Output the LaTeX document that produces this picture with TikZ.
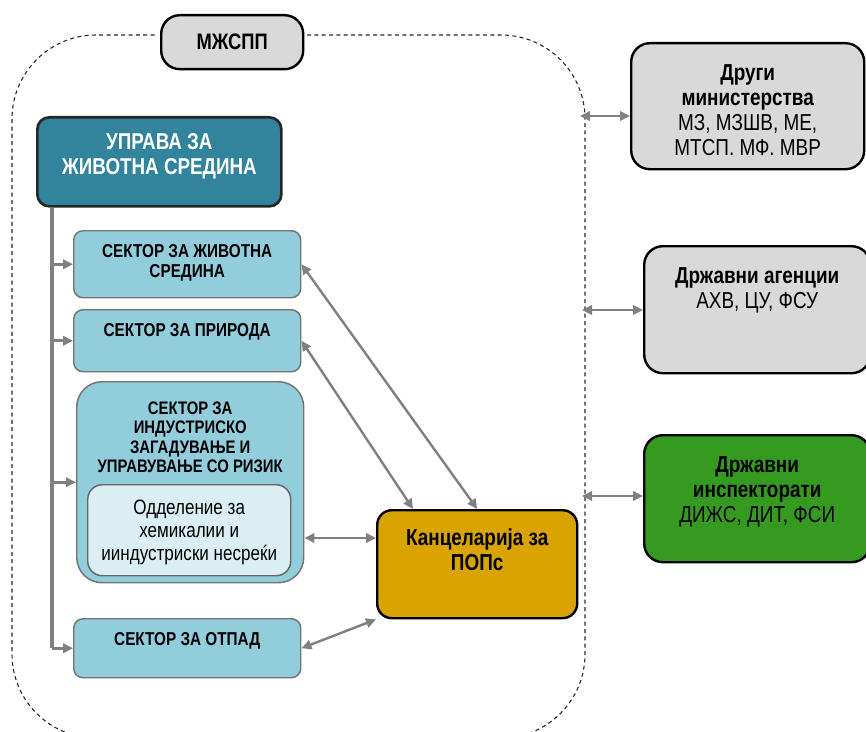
\documentclass[tikz,border=0pt]{standalone}
\usepackage{fontspec}
\setmainfont{Liberation Sans}[FakeStretch=0.82]
\usetikzlibrary{arrows.meta}
\usetikzlibrary{positioning}
\definecolor{upravablue}{HTML}{31849B}
\definecolor{sektorblue}{HTML}{92CDDC}
\definecolor{oddelblue}{HTML}{DAEEF3}
\definecolor{boxgray}{HTML}{D9D9D9}
\definecolor{popsgold}{HTML}{D9A300}
\definecolor{inspgreen}{HTML}{349A20}
\definecolor{linegray}{HTML}{808080}
\newcommand\sektorfont{\fontsize{14}{15}\selectfont\bfseries}
\newcommand\bigfont{\fontsize{17.3}{18.75}\selectfont}
\tikzset{
  at px/.style 2 args = {anchor = north west, inner sep = 0pt,
    minimum width = #1*0.75pt, minimum height = #2*0.75pt},
  sektor/.style = {draw = black!55, line width = 1.1pt, fill = sektorblue, rounded corners = 7pt},
  oddel/.style = {draw = black!60, line width = 1.1pt, fill = oddelblue, rounded corners = 11pt},
  uprava/.style = {draw = black!85, line width = 2pt, fill = upravablue, rounded corners = 9pt},
  outer/.style = {draw = black, line width = 1.8pt, fill = boxgray, rounded corners = 14pt},
  pops/.style = {draw = black, line width = 1.8pt, fill = popsgold, rounded corners = 11pt},
  insp/.style = {draw = black, line width = 1.8pt, fill = inspgreen, rounded corners = 14pt},
  txt/.style = {inner sep = 0pt, align = center},
  frame/.style = {draw = black!85, line width = 0.8pt, dash pattern = on 3pt off 2.5pt,
    rounded corners = 63pt},
  tree/.style = {draw = linegray, line width = 2.6pt},
  branch/.style = {draw = linegray, line width = 2.2pt, -{Triangle[length = 7.5pt, width = 7pt]}},
  link/.style = {draw = linegray, line width = 1.8pt,
    {Triangle[length = 7.5pt, width = 7pt]}-{Triangle[length = 7.5pt, width = 7pt]}},
}

\begin{document}
\begin{tikzpicture}[x = 0.75pt, y = -0.75pt]
  \useasboundingbox (0,0) rectangle (866,731);

  % dashed frame of the ministry
  \draw[frame] (307,35) -- (585,35) -- (585,738) -- (12,738) -- (12,35) -- (156,35);
  \node[at px = {142}{54}, outer, font = \fontsize{16.8}{18}\selectfont\bfseries] (miz) at (160,14) {МЖСПП};

  % uprava and sectors
  \node[at px = {244}{89}, uprava] (upr) at (36,116) {};
  \node[txt, below = 12.6pt of upr.north, text = white, font = \fontsize{17.2}{18.75}\selectfont\bfseries] (upr-t)
    {УПРАВА ЗА\\ЖИВОТНА СРЕДИНА};
  \node[at px = {227}{67}, sektor] (sz) at (73,230) {};
  \node[txt, below = 11pt of sz.north, font = \sektorfont] (sz-t) {СЕКТОР ЗА ЖИВОТНА\\СРЕДИНА};
  \node[at px = {227}{62}, sektor] (pr) at (73,309) {};
  \node[txt, below = 11pt of pr.north, font = \sektorfont] (pr-t) {СЕКТОР ЗА ПРИРОДА};
  \node[at px = {227}{201}, sektor, rounded corners = 19pt] (ind) at (76,381) {};
  \node[txt, below = 15.2pt of ind.north, font = \fontsize{13.6}{14.6}\selectfont\bfseries] (ind-t)
    {СЕКТОР ЗА\\ИНДУСТРИСКО\\ЗАГАДУВАЊЕ И\\УПРАВУВАЊЕ СО РИЗИК};
  \node[at px = {203}{91}, oddel] (od) at (87,484) {};
  \node[txt, below = 12pt of od.north, font = \fontsize{15.6}{17}\selectfont] (od-t)
    {Одделение за\\хемикалии и\\ииндустриски несреќи};
  \node[at px = {227}{59}, sektor] (ot) at (73,618) {};
  \node[txt, below = 10.8pt of ot.north, font = \sektorfont] (ot-t) {СЕКТОР ЗА ОТПАД};

  \node[at px = {200}{108}, pops] (kp) at (376,509) {};
  \node[txt, below = 15pt of kp.north, font = \bigfont\bfseries] (kp-t) {Канцеларија за\\ПОПс};

  % outside institutions
  \node[at px = {233}{126}, outer] (dm) at (630,42) {};
  \node[txt, below = 16.5pt of dm.north, font = \bigfont] (dm-t)
    {\textbf{Други}\\\textbf{министерства}\\МЗ, МЗШВ, МЕ,\\МТСП. МФ. МВР};
  \node[at px = {226}{127}, outer] (da) at (643,245) {};
  \node[txt, below = 16.5pt of da.north, font = \bigfont] (da-t) {\textbf{Државни агенции}\\АХВ, ЦУ, ФСУ};
  \node[at px = {226}{127}, insp] (di) at (643,434) {};
  \node[txt, below = 16.5pt of di.north, font = \bigfont] (di-t)
    {\textbf{Државни}\\\textbf{инспекторати}\\ДИЖС, ДИТ, ФСИ};

  % tree from the uprava
  \coordinate (trunk) at ([xshift = 12pt]upr.south west);
  \draw[tree] (trunk) -- (trunk |- ot.west);
  \draw[branch] (trunk |- sz.west) -- (sz.west);
  \draw[branch] (trunk |- pr.west) -- (pr.west);
  \draw[branch] (trunk |- ind.west) -- (ind.west);
  \draw[branch] (trunk |- ot.west) -- (ot.west);

  % links to the office
  \draw[link] (sz.east) -- (kp.north);
  \draw[link] (pr.east) -- (413,0 |- kp.north);
  \draw[link] (ind.east |- 0,538) -- (kp.west |- 0,538);
  \draw[link] (ot.east) -- (kp.south west);

  % links to the outside
  \coordinate (fdm) at (580,116);
  \coordinate (fda) at (582,310);
  \coordinate (fdi) at (582,496);
  \draw[link] (fdm) -- (dm.west |- fdm);
  \draw[link] (fda) -- (da.west |- fda);
  \draw[link] (fdi) -- (di.west |- fdi);
\end{tikzpicture}
\end{document}
